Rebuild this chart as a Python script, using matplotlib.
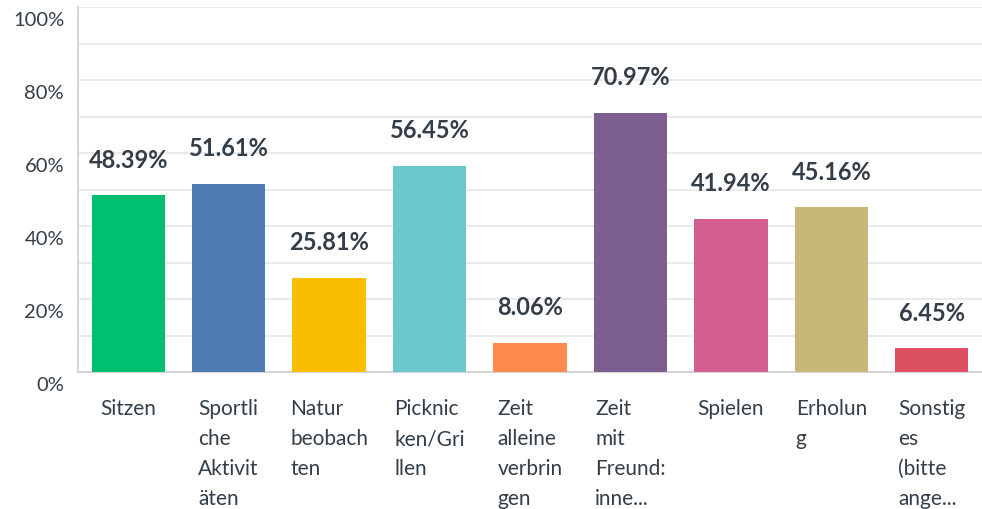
import matplotlib
matplotlib.use("Agg")
import matplotlib.pyplot as plt
from matplotlib.transforms import ScaledTranslation

# data
categories = [
    "Sitzen",
    "Sportli\nche\nAktivit\näten",
    "Natur\nbeobach\nten",
    "Picknic\nken/Gri\nllen",
    "Zeit\nalleine\nverbrin\ngen",
    "Zeit\nmit\nFreund:\ninne...",
    "Spielen",
    "Erholun\ng",
    "Sonstig\nes\n(bitte\nange...",
]
values = [48.39, 51.61, 25.81, 56.45, 8.06, 70.97, 41.94, 45.16, 6.45]
colors = ["#00bf6f", "#507cb6", "#f9be00", "#6bc8cd", "#ff8b4f",
          "#7d5e90", "#d25f90", "#c7b879", "#dc5161"]
y_ticks = [0, 20, 40, 60, 80, 100]
y_grid = [10, 30, 50, 70, 90]

text_color = "#333e48"
plt.rcParams["font.family"] = ["Lato", "DejaVu Sans"]

fig = plt.figure(figsize=(9.82, 5.10), dpi=100)
ax = fig.add_axes([78 / 982, 1 - 373 / 510, 904 / 982, 365 / 510])

x = range(len(values))
ax.bar(x, values, width=0.73, color=colors, zorder=3)

for xi, v in zip(x, values):
    ax.annotate(f"{v:.2f}%", (xi, v), xytext=(0, 26), textcoords="offset points",
                ha="center", va="center", fontsize=17, fontweight="bold",
                color=text_color, zorder=4)

ax.set_xlim(-0.5, len(values) - 0.5)
ax.set_ylim(0, 100)

ax.set_yticks(y_ticks)
ax.set_yticklabels([f"{t}%" for t in y_ticks], fontsize=14.5, color=text_color)
ax.set_yticks(y_grid, minor=True)
ax.grid(axis="y", which="both", color="#ebebeb", linewidth=1.5, zorder=0)
ax.tick_params(axis="y", which="both", length=0, pad=10)
shift = ScaledTranslation(0, -11 / 100, fig.dpi_scale_trans)
for lbl in ax.get_yticklabels():
    lbl.set_transform(lbl.get_transform() + shift)

ax.set_xticks(list(x))
ax.set_xticklabels(categories, fontsize=15, color=text_color,
                   multialignment="left", linespacing=1.62)
ax.tick_params(axis="x", length=0, pad=19)

for side in ["top", "right"]:
    ax.spines[side].set_visible(False)
for side in ["left", "bottom"]:
    ax.spines[side].set_color("#d5d5d5")
    ax.spines[side].set_linewidth(1.5)

fig.savefig("out.png", dpi=100)
